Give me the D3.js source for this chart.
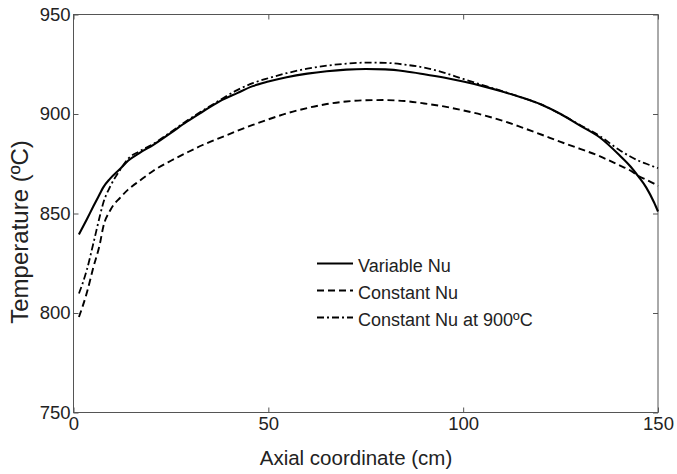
<!DOCTYPE html>
<html>
<head>
<meta charset="utf-8">
<script src="https://cdn.jsdelivr.net/npm/d3@7"></script>
<style>
  body { margin: 0; background: #fff; }
  text { font-family: "Liberation Sans", Arial, Helvetica, sans-serif; fill: #222; }
</style>
</head>
<body>
<div id="plot"></div>
<script>
// axial positions (cm) shared by all series
const axial = [1.4, 3.4, 5.1, 6.8, 7.6, 9.4, 12, 14, 17, 20.5, 25, 29, 33, 37.6, 42, 46, 50, 54.7, 60, 65,
  70, 75, 80, 85, 90, 95, 100, 105, 110, 115, 120, 125, 130, 135, 140, 143, 145, 147, 149, 150];

// temperatures (°C)
const variableNu = [839.5, 847, 853.6, 860, 863, 867.5, 872.5, 876.5, 880.5, 884.5, 890.5, 896, 901, 906.5, 910.5, 914, 916.3, 918.5, 920.3, 921.5,
  922.3, 922.6, 922.4, 921.5, 920, 918.3, 916.3, 914, 911.3, 908.3, 904.8, 900, 894.2, 888.3, 879.5, 873.5, 868.5, 863, 855.5, 851];
const constantNu = [798, 810, 823, 835, 843, 851.5, 858, 862, 866.5, 871.5, 876.5, 880.5, 884.3, 888, 891.5, 894.5, 897.3, 900.3, 903, 905,
  906.3, 906.9, 907, 906.5, 905.3, 903.8, 901.8, 899.5, 896.7, 893.3, 889.7, 886, 882.5, 878.8, 874.3, 871.5, 868.8, 867, 865, 863.8];
const constantNu900 = [809.8, 821.5, 835, 849, 855, 863.5, 872, 877.5, 881.3, 885, 891, 896.5, 901.5, 907, 912, 915.5, 918, 920.5, 922.8, 924.3,
  925.3, 925.8, 925.7, 924.8, 923.3, 920.8, 917.6, 914.5, 911.5, 908.3, 904.8, 900, 894.5, 889, 882, 878.5, 876.5, 875, 873.5, 872.8];

const xTicks = [0, 50, 100, 150];
const yTicks = [750, 800, 850, 900, 950];

const seriesNames = ["Variable Nu", "Constant Nu", "Constant Nu at 900ºC"];
const seriesDash = [null, "7,4", "7,3,2,3"];
const seriesWidth = [2.1, 1.9, 1.8];

const W = 677, H = 474;
const mLeft = 73.5, mRight = 658, mTop = 14.5, mBottom = 412.5;

const svg = d3.select("#plot").append("svg")
  .attr("width", W)
  .attr("height", H);

const x = d3.scaleLinear().domain([0, 150]).range([mLeft, mRight]);
const y = d3.scaleLinear().domain([750, 950]).range([mBottom, mTop]);

// frame
svg.append("rect")
  .attr("x", mLeft).attr("y", mTop)
  .attr("width", mRight - mLeft).attr("height", mBottom - mTop)
  .attr("fill", "none").attr("stroke", "#555").attr("stroke-width", 1);

// axes with inward ticks on all sides
const styleAxis = g => {
  g.select(".domain").remove();
  g.selectAll("line").attr("stroke", "#555");
  g.selectAll("text").style("font-size", "18.5px").attr("fill", "#222");
};

svg.append("g")
  .attr("transform", `translate(0,${mBottom})`)
  .call(d3.axisBottom(x).tickValues(xTicks).tickSizeInner(-5).tickSizeOuter(0).tickPadding(4.5))
  .call(styleAxis);
svg.append("g")
  .attr("transform", `translate(0,${mTop})`)
  .call(d3.axisTop(x).tickValues(xTicks).tickSizeInner(-5).tickSizeOuter(0).tickFormat(""))
  .call(styleAxis);
svg.append("g")
  .attr("transform", `translate(${mLeft},0)`)
  .call(d3.axisLeft(y).tickValues(yTicks).tickSizeInner(-5).tickSizeOuter(0).tickPadding(3))
  .call(styleAxis);
svg.append("g")
  .attr("transform", `translate(${mRight},0)`)
  .call(d3.axisRight(y).tickValues(yTicks).tickSizeInner(-5).tickSizeOuter(0).tickFormat(""))
  .call(styleAxis);

// axis titles
svg.append("text")
  .attr("x", 356).attr("y", 464.5)
  .attr("text-anchor", "middle")
  .style("font-size", "20.5px")
  .text("Axial coordinate (cm)");

svg.append("text")
  .attr("transform", "translate(27.5,232) rotate(-90)")
  .attr("text-anchor", "middle")
  .style("font-size", "24px")
  .text("Temperature (ºC)");

// curves
const allSeries = [variableNu, constantNu, constantNu900];
const line = d3.line()
  .x(d => x(d[0]))
  .y(d => y(d[1]))
  .curve(d3.curveMonotoneX);

allSeries.forEach((vals, i) => {
  svg.append("path")
    .datum(axial.map((a, j) => [a, vals[j]]))
    .attr("fill", "none")
    .attr("stroke", "#000")
    .attr("stroke-width", seriesWidth[i])
    .attr("stroke-dasharray", seriesDash[i])
    .attr("d", line);
});

// legend
const legend = svg.append("g").attr("transform", "translate(317,263.5)");
seriesNames.forEach((name, i) => {
  const row = legend.append("g").attr("transform", `translate(0,${i * 27})`);
  row.append("line")
    .attr("x1", 0).attr("x2", 36)
    .attr("stroke", "#000")
    .attr("stroke-width", seriesWidth[i])
    .attr("stroke-dasharray", seriesDash[i]);
  row.append("text")
    .attr("x", 41).attr("y", 8)
    .style("font-size", "18px")
    .text(name);
});
</script>
</body>
</html>
